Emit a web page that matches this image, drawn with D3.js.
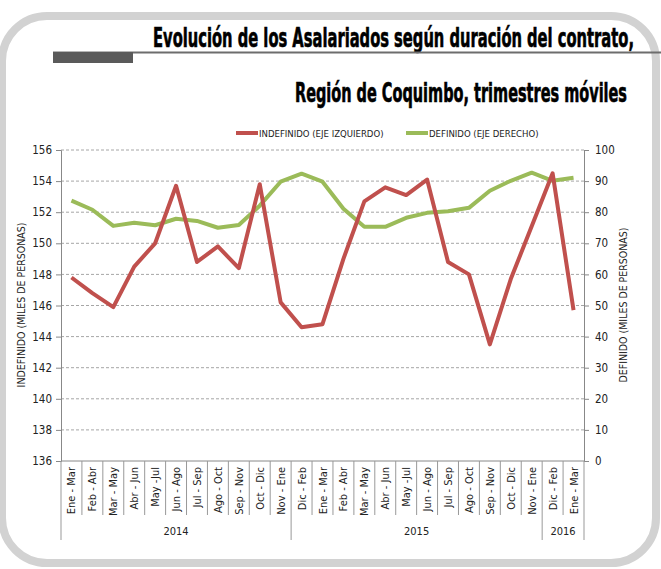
<!DOCTYPE html>
<html>
<head>
<meta charset="utf-8">
<title>Asalariados Coquimbo</title>
<script src="https://d3js.org/d3.v7.min.js"></script>
<style>
  body { margin: 0; background: #fff; }
  svg text { font-family: "Liberation Sans Narrow", "Arial Narrow", "DejaVu Sans Condensed", sans-serif; fill: #222; }
</style>
</head>
<body>
<div class="box"></div>
<script>
var periods = ["Ene - Mar", "Feb - Abr", "Mar - May", "Abr - Jun", "May -Jul", "Jun - Ago", "Jul - Sep", "Ago - Oct", "Sep - Nov", "Oct - Dic", "Nov - Ene",
               "Dic - Feb", "Ene - Mar", "Feb - Abr", "Mar - May", "Abr - Jun", "May -Jul", "Jun - Ago", "Jul - Sep", "Ago - Oct", "Sep - Nov", "Oct - Dic", "Nov - Ene",
               "Dic - Feb", "Ene - Mar"];
var years = ["2014", "2015", "2016"];
var yearCounts = [11, 12, 2];
var indefinido = [147.8, 146.8, 145.9, 148.5, 150.0, 153.7, 148.8, 149.8, 148.4, 153.8, 146.2,
                  144.6, 144.8, 149.0, 152.7, 153.6, 153.1, 154.1, 148.8, 148.0, 143.5, 147.7, 151.1,
                  154.5, 145.7];
var definido = [83.7, 80.8, 75.6, 76.6, 75.8, 77.9, 77.2, 75.0, 75.9, 82.1, 89.8,
                92.4, 89.8, 81.1, 75.3, 75.3, 78.2, 79.8, 80.3, 81.4, 86.9, 90.1, 92.7,
                90.1, 91.1];
var leftTicks = [136, 138, 140, 142, 144, 146, 148, 150, 152, 154, 156];
var rightTicks = [0, 10, 20, 30, 40, 50, 60, 70, 80, 90, 100];

var width = 661, height = 569;
var pLeft = 61, pRight = 584, pTop = 150, pBottom = 461;
var red = "#C0504D", green = "#9BBB59";

var svg = d3.select("div.box").append("svg")
    .attr("width", width)
    .attr("height", height);

// rounded frame
svg.append("rect")
    .attr("x", 2).attr("y", 16)
    .attr("width", 654).attr("height", 547)
    .attr("rx", 45).attr("ry", 45)
    .attr("fill", "none")
    .attr("stroke", "#d2d2d2")
    .attr("stroke-width", 8);

// title
svg.append("text")
    .attr("x", 153).attr("y", 47)
    .attr("textLength", 481).attr("lengthAdjust", "spacingAndGlyphs")
    .style("font-size", "26px").style("font-weight", "bold").style("fill", "#000")
    .style("stroke", "#000").style("stroke-width", 0.6)
    .text("Evolución de los Asalariados según duración del contrato,");
svg.append("line")
    .attr("x1", 53).attr("x2", 661).attr("y1", 52.5).attr("y2", 52.5)
    .attr("stroke", "#6d6d6d").attr("stroke-width", 2);
svg.append("rect")
    .attr("x", 53).attr("y", 52).attr("width", 80).attr("height", 11)
    .attr("fill", "#5a5a5a");
svg.append("text")
    .attr("x", 295).attr("y", 102)
    .attr("textLength", 332).attr("lengthAdjust", "spacingAndGlyphs")
    .style("font-size", "26px").style("font-weight", "bold").style("fill", "#000")
    .style("stroke", "#000").style("stroke-width", 0.6)
    .text("Región de Coquimbo, trimestres móviles");

// scales
var x = d3.scaleBand().domain(d3.range(periods.length)).range([pLeft, pRight]).padding(0);
var yL = d3.scaleLinear().domain([136, 156]).range([pBottom, pTop]);
var yR = d3.scaleLinear().domain([0, 100]).range([pBottom, pTop]);

// gridlines
svg.append("g").selectAll("line")
    .data(leftTicks.slice(1))
    .enter().append("line")
    .attr("x1", pLeft).attr("x2", pRight)
    .attr("y1", function(d) { return yL(d); })
    .attr("y2", function(d) { return yL(d); })
    .attr("stroke", "#a6a6a6")
    .attr("stroke-dasharray", "3,2");

// left axis
var gL = svg.append("g")
    .attr("transform", "translate(" + pLeft + ",0)")
    .call(d3.axisLeft(yL).tickValues(leftTicks).tickSize(5).tickPadding(4));
gL.selectAll("text").style("font-size", "11.5px");

// right axis
var gR = svg.append("g")
    .attr("transform", "translate(" + pRight + ",0)")
    .call(d3.axisRight(yR).tickValues(rightTicks).tickSize(5).tickPadding(6));
gR.selectAll("text").style("font-size", "11.5px");

[gL, gR].forEach(function(g) {
    g.select(".domain").attr("stroke", "#888");
    g.selectAll(".tick line").attr("stroke", "#888");
});

// bottom axis line
svg.append("line")
    .attr("x1", pLeft).attr("x2", pRight).attr("y1", pBottom).attr("y2", pBottom)
    .attr("stroke", "#888");

// category separators
var bounds = d3.range(periods.length + 1);
var yearBounds = [0];
yearCounts.forEach(function(c, i) { yearBounds.push(yearBounds[i] + c); });
svg.append("g").selectAll("line")
    .data(bounds)
    .enter().append("line")
    .attr("x1", function(d) { return pLeft + d * x.step(); })
    .attr("x2", function(d) { return pLeft + d * x.step(); })
    .attr("y1", pBottom)
    .attr("y2", function(d) { return yearBounds.indexOf(d) >= 0 ? 540 : 515; })
    .attr("stroke", "#999");

// category labels
svg.append("g").selectAll("text")
    .data(periods)
    .enter().append("text")
    .attr("transform", function(d, i) {
        return "translate(" + (x(i) + x.bandwidth() / 2 + 4) + "," + 467 + ") rotate(-90)";
    })
    .attr("text-anchor", "end")
    .style("font-size", "11px")
    .text(function(d) { return d; });

// year labels
svg.append("g").selectAll("text")
    .data(years)
    .enter().append("text")
    .attr("x", function(d, i) { return pLeft + (yearBounds[i] + yearBounds[i + 1]) / 2 * x.step(); })
    .attr("y", 535)
    .attr("text-anchor", "middle")
    .style("font-size", "11px")
    .text(function(d) { return d; });

// axis titles
svg.append("text")
    .attr("transform", "translate(25,305) rotate(-90)")
    .attr("text-anchor", "middle")
    .style("font-size", "10.5px")
    .text("INDEFINIDO (MILES DE PERSONAS)");
svg.append("text")
    .attr("transform", "translate(627,305) rotate(-90)")
    .attr("text-anchor", "middle")
    .style("font-size", "10.5px")
    .text("DEFINIDO (MILES DE PERSONAS)");

// lines
var lineL = d3.line()
    .x(function(d, i) { return x(i) + x.bandwidth() / 2; })
    .y(function(d) { return yL(d); });
var lineR = d3.line()
    .x(function(d, i) { return x(i) + x.bandwidth() / 2; })
    .y(function(d) { return yR(d); });

svg.append("path").datum(definido)
    .attr("d", lineR)
    .attr("fill", "none").attr("stroke", green).attr("stroke-width", 4)
    .attr("stroke-linejoin", "round");
svg.append("path").datum(indefinido)
    .attr("d", lineL)
    .attr("fill", "none").attr("stroke", red).attr("stroke-width", 4)
    .attr("stroke-linejoin", "round");

// legend
var legend = [
    { name: "INDEFINIDO (EJE IZQUIERDO)", color: red, x: 236 },
    { name: "DEFINIDO (EJE DERECHO)", color: green, x: 406 }
];
var lg = svg.append("g").selectAll("g")
    .data(legend)
    .enter().append("g")
    .attr("transform", function(d) { return "translate(" + d.x + ",133)"; });
lg.append("line")
    .attr("x1", 0).attr("x2", 22)
    .attr("stroke", function(d) { return d.color; })
    .attr("stroke-width", 4);
lg.append("text")
    .attr("x", 23).attr("y", 4)
    .style("font-size", "9.5px")
    .text(function(d) { return d.name; });
</script>
</body>
</html>
